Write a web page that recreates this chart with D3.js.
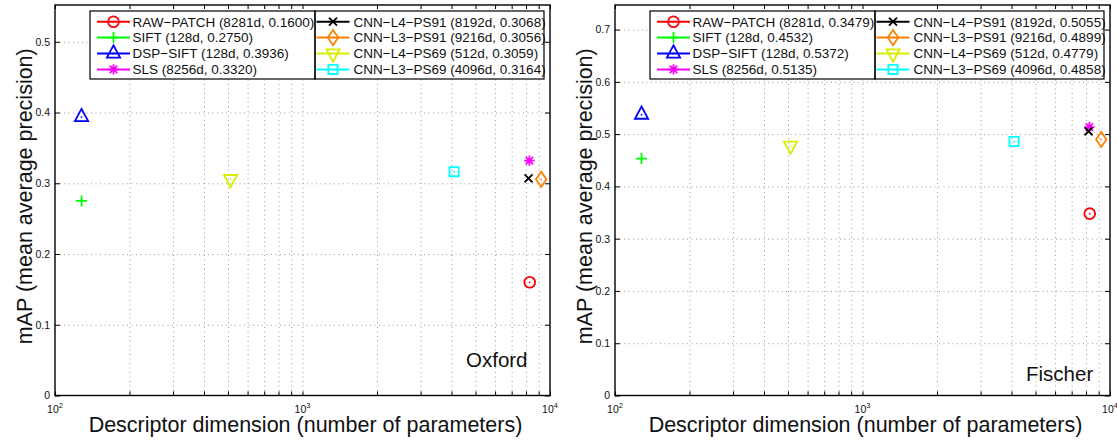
<!DOCTYPE html>
<html>
<head>
<meta charset="utf-8">
<script src="https://cdn.jsdelivr.net/npm/d3@7"></script>
<style>
  body { margin: 0; background: #fff; }
  svg { display: block; font-family: "Liberation Sans", Arial, sans-serif; }
</style>
</head>
<body>
<svg id="chart" width="1117" height="442"></svg>
<script>
// descriptors, shared by both panels
const methods = ["RAW−PATCH", "SIFT", "DSP−SIFT", "SLS", "CNN−L4−PS91", "CNN−L3−PS91", "CNN−L4−PS69", "CNN−L3−PS69"];
const dims = [8281, 128, 128, 8256, 8192, 9216, 512, 4096];
const oxfordMAP = [0.1600, 0.2750, 0.3936, 0.3320, 0.3068, 0.3056, 0.3059, 0.3164];
const fischerMAP = [0.3479, 0.4532, 0.5372, 0.5135, 0.5055, 0.4899, 0.4779, 0.4858];
const colors = ["#ff0000", "#00ff00", "#0000ff", "#ff00ff", "#000000", "#ff8000", "#dcec00", "#00ffff"];
const markers = ["o", "+", "^", "*", "x", "d", "v", "s"];
const xTicks = [100, 1000, 10000];
const oxfordTicks = [0, 0.1, 0.2, 0.3, 0.4, 0.5];
const fischerTicks = [0, 0.1, 0.2, 0.3, 0.4, 0.5, 0.6, 0.7];

const svg = d3.select("#chart");
const top_ = 5, bottom = 395.5;

const markerPaths = {
  "+": "M-5.5,0H5.5M0,-5.5V5.5",
  "^": "M0,-8.2L6.6,4.1H-6.6Z",
  "*": "M-5.2,0H5.2M0,-5.2V5.2M-3.7,-3.7L3.7,3.7M-3.7,3.7L3.7,-3.7",
  "x": "M-4,-4L4,4M-4,4L4,-4",
  "d": "M0,-7.6L5.2,0L0,7.6L-5.2,0Z",
  "v": "M0,8.2L6.6,-4.1H-6.6Z",
  "s": "M-4.6,-4.6H4.6V4.6H-4.6Z"
};

function drawMarker(g, type, color) {
  if (type === "o") {
    g.append("circle").attr("r", 5.4).attr("fill", "none")
      .attr("stroke", color).attr("stroke-width", 1.8);
  } else {
    g.append("path").attr("d", markerPaths[type]).attr("fill", "none")
      .attr("stroke", color).attr("stroke-width", 1.8).attr("stroke-linejoin", "miter");
  }
  if ("o^dvs".includes(type)) {
    g.append("circle").attr("r", 0.9).attr("fill", color);
  }
}

function panel(cfg) {
  const g = svg.append("g");
  const x = d3.scaleLog().domain([100, 10000]).range([cfg.x0, cfg.x1]);
  const y = d3.scaleLinear().domain([0, cfg.yMax]).range([bottom, top_]);
  const h = bottom - top_, w = cfg.x1 - cfg.x0;

  const allX = x.ticks();
  const gridX = allX.filter(v => v > 100 && v < 10000);

  // dotted grid
  const gx = g.append("g").attr("transform", `translate(0,${bottom})`)
    .call(d3.axisBottom(x).tickValues(gridX).tickSize(-h).tickFormat(""));
  const gy = g.append("g").attr("transform", `translate(${cfg.x0},0)`)
    .call(d3.axisLeft(y).tickValues(cfg.yTicks.filter(v => v > 0)).tickSize(-w).tickFormat(""));
  [gx, gy].forEach(a => {
    a.select(".domain").remove();
    a.selectAll("line").attr("stroke", "#9a9a9a").attr("stroke-width", 1)
      .attr("stroke-dasharray", "1,3.5");
  });

  // inward ticks on all four sides
  const tickStyle = a => {
    a.select(".domain").remove();
    a.selectAll("line").attr("stroke", "#000").attr("stroke-width", 1);
  };
  g.append("g").attr("transform", `translate(0,${bottom})`)
    .call(d3.axisBottom(x).tickValues(allX).tickSize(-4).tickFormat("")).call(tickStyle);
  g.append("g").attr("transform", `translate(0,${top_})`)
    .call(d3.axisTop(x).tickValues(allX).tickSize(-4).tickFormat("")).call(tickStyle);
  g.append("g").attr("transform", `translate(${cfg.x1},0)`)
    .call(d3.axisRight(y).tickValues(cfg.yTicks).tickSize(-5).tickFormat("")).call(tickStyle);

  // y axis with labels
  const ya = g.append("g").attr("transform", `translate(${cfg.x0},0)`)
    .call(d3.axisLeft(y).tickValues(cfg.yTicks).tickSize(-5).tickPadding(5)
      .tickFormat(d => d === 0 ? "0" : d3.format(".1f")(d)));
  tickStyle(ya);
  ya.selectAll("text").attr("font-size", 10.5).attr("fill", "#111")
    .attr("font-family", "Liberation Sans, Arial, sans-serif");

  // x tick labels as 10^n
  const xl = g.append("g");
  xTicks.forEach(v => {
    const t = xl.append("text").attr("x", x(v)).attr("y", 413).attr("text-anchor", "middle")
      .attr("font-size", 10.5).attr("fill", "#111");
    t.append("tspan").text("10");
    t.append("tspan").attr("dy", -5).attr("font-size", 7.5).text(String(Math.round(Math.log10(v))));
  });

  // frame
  g.append("rect").attr("x", cfg.x0).attr("y", top_).attr("width", w).attr("height", h)
    .attr("fill", "none").attr("stroke", "#000").attr("stroke-width", 1.4);

  // data points
  cfg.values.forEach((v, i) => {
    const m = g.append("g").attr("transform", `translate(${x(dims[i])},${y(v)})`);
    drawMarker(m, markers[i], colors[i]);
  });

  // legend, two columns
  const bx = cfg.x0 + 35, by = 11, colW = [225, 229], rowH = 15.9;
  const leg = g.append("g");
  leg.append("rect").attr("x", bx).attr("y", by).attr("width", colW[0] + colW[1]).attr("height", 68)
    .attr("fill", "#fff");
  [0, 1].forEach(c => {
    const cx = bx + (c === 0 ? 0 : colW[0]);
    leg.append("rect").attr("x", cx).attr("y", by).attr("width", colW[c]).attr("height", 68)
      .attr("fill", "none").attr("stroke", "#000").attr("stroke-width", 1.2);
    const lx0 = cx + (c === 0 ? 7 : 1.5), lx1 = lx0 + 33, tx = lx1 + (c === 0 ? 2.5 : 4);
    for (let r = 0; r < 4; r++) {
      const i = c * 4 + r;
      const ry = by + 10.7 + r * rowH;
      leg.append("line").attr("x1", lx0).attr("x2", lx1).attr("y1", ry).attr("y2", ry)
        .attr("stroke", colors[i]).attr("stroke-width", 2);
      const m = leg.append("g").attr("transform", `translate(${(lx0 + lx1) / 2},${ry})`);
      drawMarker(m, markers[i], colors[i]);
      leg.append("text").attr("x", tx).attr("y", ry + 4.8).attr("font-size", 13.5).attr("fill", "#111")
        .text(`${methods[i]} (${dims[i]}d, ${cfg.values[i].toFixed(4)})`);
    }
  });

  // dataset name
  g.append("text").attr("x", cfg.nameX).attr("y", cfg.nameY).attr("font-size", 20.5).attr("fill", "#111")
    .text(cfg.name);

  // axis titles
  g.append("text").attr("x", (cfg.x0 + cfg.x1) / 2 + 3).attr("y", 432).attr("text-anchor", "middle")
    .attr("font-size", 21.5).attr("fill", "#111").text("Descriptor dimension (number of parameters)");
  g.append("text").attr("transform", `translate(${cfg.x0 - 23},${(top_ + bottom) / 2 - 4}) rotate(-90)`)
    .attr("text-anchor", "middle").attr("font-size", 21.5).attr("fill", "#111")
    .text("mAP (mean average precision)");
}

panel({ x0: 55, x1: 550, yMax: 0.552, yTicks: oxfordTicks, values: oxfordMAP,
        name: "Oxford", nameX: 466, nameY: 367 });
panel({ x0: 615, x1: 1110, yMax: 0.747, yTicks: fischerTicks, values: fischerMAP,
        name: "Fischer", nameX: 1026, nameY: 381 });
</script>
</body>
</html>
